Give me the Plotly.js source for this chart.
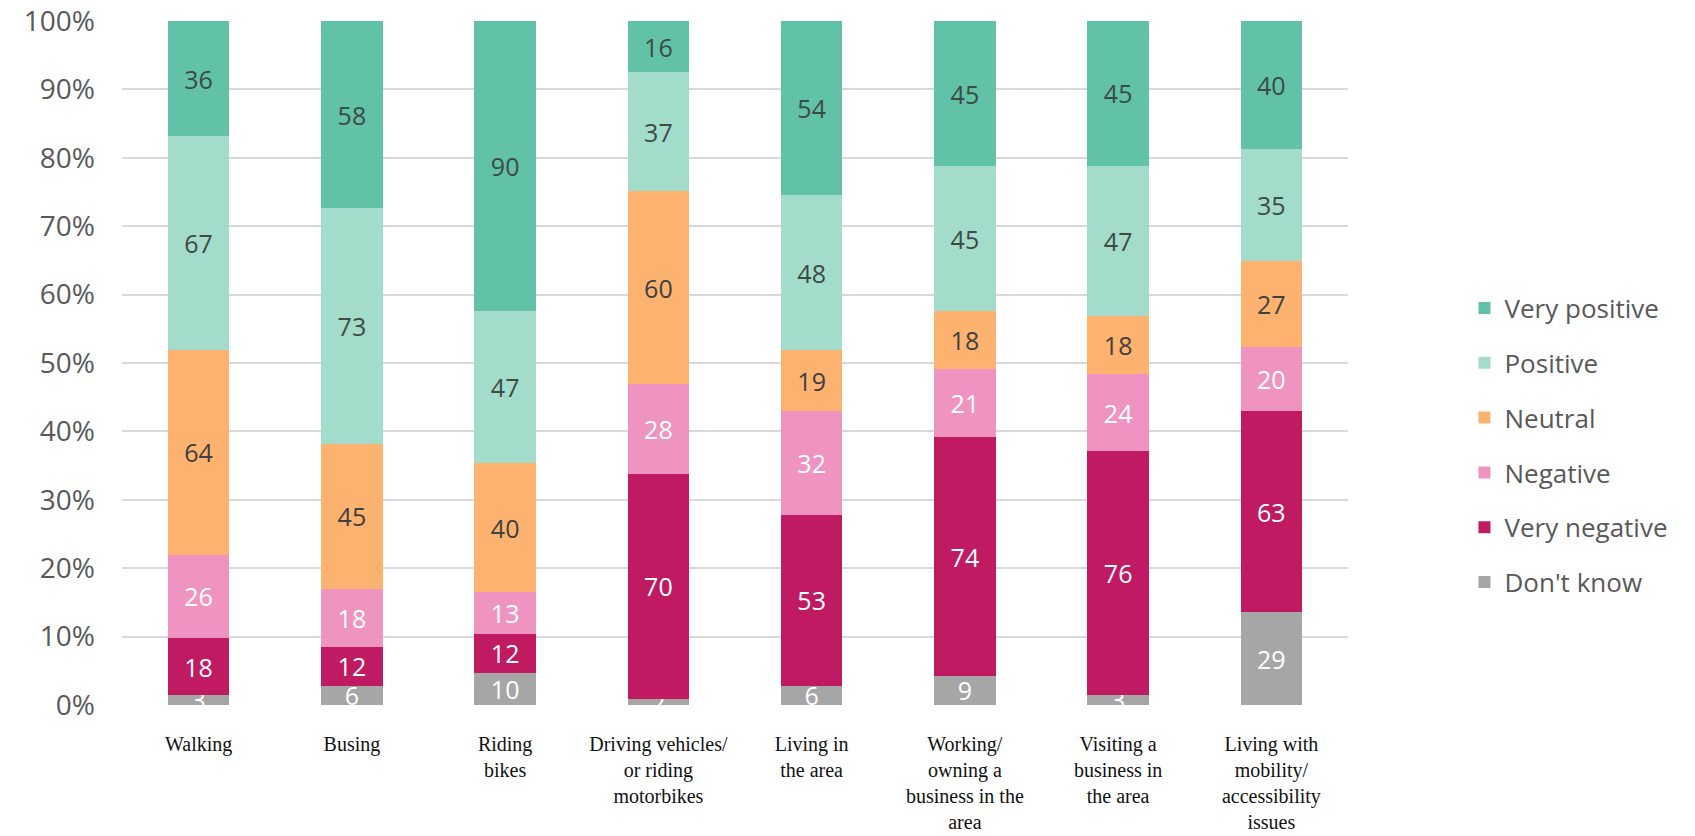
<!DOCTYPE html>
<html>
<head>
<meta charset="utf-8">
<script src="https://cdn.plot.ly/plotly-3.0.1.min.js"></script>
<style>html,body{margin:0;padding:0;background:#fff;}#chart{width:1695px;height:836px;}</style>
</head>
<body>
<div id="chart"></div>
<script>
const categories = [
  "Walking",
  "Busing",
  "Riding<br>bikes",
  "Driving vehicles/<br>or riding<br>motorbikes",
  "Living in<br>the area",
  "Working/<br>owning a<br>business in the<br>area",
  "Visiting a<br>business in<br>the area",
  "Living with<br>mobility/<br>accessibility<br>issues"
];
const dontKnow     = [3, 6, 10, 2, 6, 9, 3, 29];
const veryNegative = [18, 12, 12, 70, 53, 74, 76, 63];
const negative     = [26, 18, 13, 28, 32, 21, 24, 20];
const neutral      = [64, 45, 40, 60, 19, 18, 18, 27];
const positive     = [67, 73, 47, 37, 48, 45, 47, 35];
const veryPositive = [36, 58, 90, 16, 54, 45, 45, 40];
const yTickVals = [0, 10, 20, 30, 40, 50, 60, 70, 80, 90, 100];

const series = [
  {name: "Don't know", y: dontKnow, color: "#a6a6a6", tc: "#ffffff"},
  {name: "Very negative", y: veryNegative, color: "#c01a63", tc: "#ffffff"},
  {name: "Negative", y: negative, color: "#ef94c0", tc: "#ffffff"},
  {name: "Neutral", y: neutral, color: "#fdb36f", tc: "#404040"},
  {name: "Positive", y: positive, color: "#a3dccb", tc: "#3d4a45"},
  {name: "Very positive", y: veryPositive, color: "#62c2a7", tc: "#3d4a45"}
];

const traces = series.map((s, i) => ({
  type: "bar",
  name: s.name,
  x: categories,
  y: s.y,
  text: s.y.map(String),
  texttemplate: "%{text}",
  textposition: "inside",
  insidetextanchor: "middle",
  textangle: 0,
  constraintext: "none",
  cliponaxis: true,
  textfont: {family: "Open Sans, sans-serif", size: 25, color: s.tc},
  marker: {color: s.color, line: {width: 0}},
  legendgroup: "g" + i,
  legendrank: 100 - i,
  hoverinfo: "skip"
}));

const layout = {
  width: 1695,
  height: 836,
  barmode: "stack",
  barnorm: "percent",
  bargap: 0.6,
  paper_bgcolor: "#ffffff",
  plot_bgcolor: "#ffffff",
  margin: {l: 122, r: 347, t: 21, b: 131},
  uniformtext: {mode: "show", minsize: 25},
  font: {family: "Open Sans, sans-serif", color: "#595959"},
  xaxis: {
    tickfont: {family: "Liberation Serif, serif", size: 20, color: "#111111"},
    ticks: "",
    ticklabelstandoff: 25,
    showgrid: false,
    showline: false,
    zeroline: false
  },
  yaxis: {
    range: [0, 100],
    tickvals: yTickVals,
    ticktext: yTickVals.map(v => v + "%"),
    tickfont: {family: "Open Sans, sans-serif", size: 28, color: "#595959"},
    ticks: "",
    ticklabelstandoff: 26,
    showgrid: true,
    gridcolor: "#d9d9d9",
    gridwidth: 2,
    zeroline: false,
    showline: false,
    fixedrange: true
  },
  showlegend: true,
  legend: {
    x: 1.095,
    xanchor: "left",
    y: 0.38,
    yanchor: "middle",
    traceorder: "grouped",
    tracegroupgap: 18,
    font: {family: "Open Sans, sans-serif", size: 26, color: "#595959"},
    itemwidth: 30,
    bgcolor: "rgba(0,0,0,0)"
  }
};

Plotly.newPlot("chart", traces, layout, {displayModeBar: false, staticPlot: true});
</script>
</body>
</html>
